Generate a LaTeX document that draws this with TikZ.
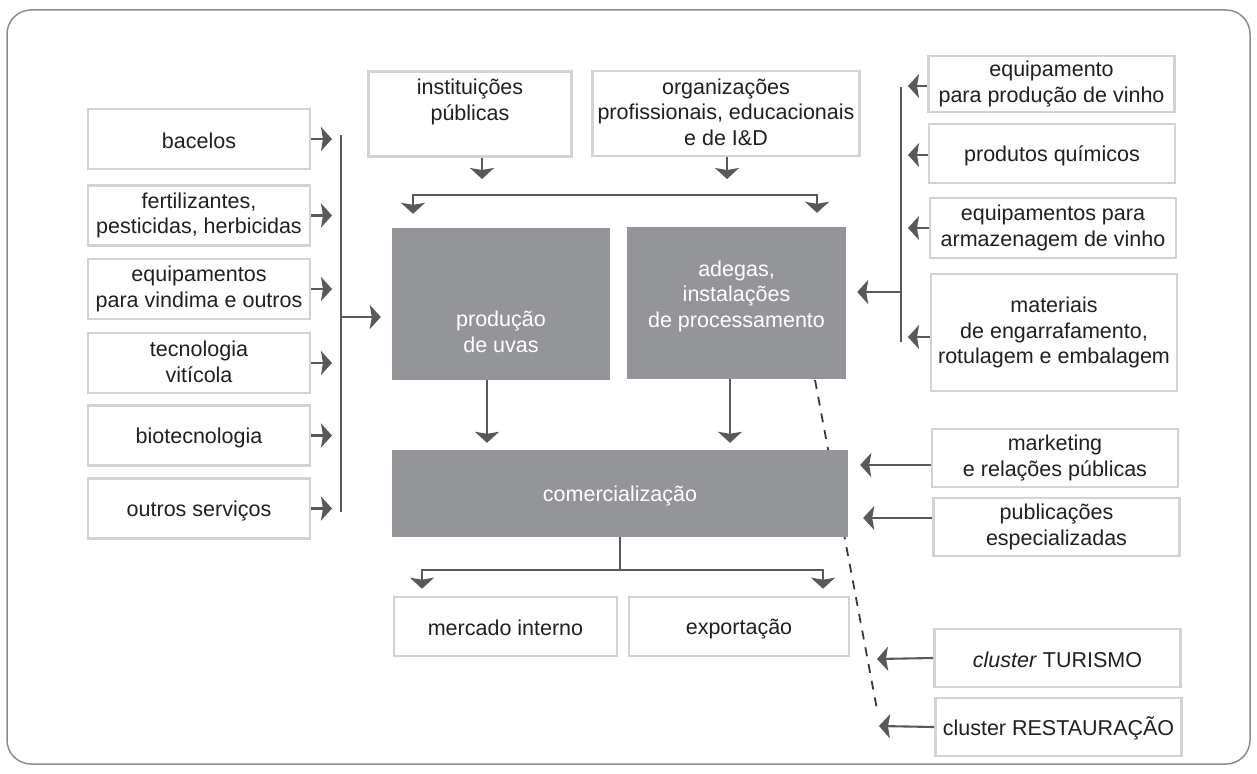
\documentclass[tikz,border=0pt]{standalone}
\usepackage{fontspec}
\setmainfont{Liberation Sans}
\usetikzlibrary{arrows.meta,calc}
\definecolor{boxgray}{HTML}{D1D3D4}
\definecolor{darkfill}{HTML}{939598}
\definecolor{linegray}{HTML}{58595B}
\definecolor{txt}{HTML}{231F20}
\definecolor{framegray}{HTML}{8A8C8E}
\definecolor{dashgray}{HTML}{3A3A3A}
\newcommand{\lnstrut}{\rule[-3pt]{0pt}{24pt}}
\begin{document}
\begin{tikzpicture}[x=1pt,y=-1pt,
  every node/.style={font=\fontsize{21.5}{25.5}\selectfont, text=txt, align=center, inner sep=0pt,
    execute at begin node=\lnstrut, execute at end node=\lnstrut},
  lbox/.style={draw=boxgray, line width=2.6pt, fill=white},
  lcol/.style={lbox, minimum width=222pt, minimum height=60pt},
  rcol/.style={lbox, minimum width=246pt, minimum height=58pt},
  dbox/.style={fill=darkfill, text=white},
  wtext/.style={text=white},
  conn/.style={draw=linegray, line width=2.1pt},
  arr/.style={conn, -{Stealth[width=24pt,length=11pt,inset=2pt]}},
  dashline/.style={draw=dashgray, line width=1.8pt, dash pattern=on 9pt off 8pt},
]
\useasboundingbox (0,0) rectangle (1257,773);
\draw[framegray, line width=1.5pt, rounded corners=24pt] (7,10) rectangle (1250,764);

% coordinates
\coordinate (Lt) at (341,135);
\coordinate (Lb) at (341,512);
\coordinate (Lm) at (341,317);
\coordinate (Rt) at (901,87);
\coordinate (Rb) at (901,342);
\coordinate (Rm) at (901,292);
\coordinate (busL) at (413,195);
\coordinate (busR) at (817,195);
\coordinate (cbus) at (620,570);
\coordinate (cbL) at (422,570);
\coordinate (cbR) at (823,570);
\coordinate (dS) at (815,380);
\coordinate (dE) at (877.5,712);
\coordinate (tT) at (877,659);
\coordinate (tR) at (879,726);

% dashed line (behind boxes)
\draw[dashline] (dS) -- (dE);

% left column
\node[lcol] (bac) at (199,139) {bacelos};
\node[lcol] (fer) at (199,215.5) {fertilizantes,\\pesticidas, herbicidas};
\node[lcol] (eqv) at (199,289) {equipamentos\\para vindima e outros};
\node[lcol] (tec) at (199,363) {tecnologia\\vitícola};
\node[lcol] (bio) at (199,435.5) {biotecnologia};
\node[lcol] (out) at (199,508.5) {outros serviços};

% top boxes
\node[lbox, minimum width=203pt, minimum height=85pt] (inst) at (470,114) {instituições\\públicas\\\mbox{}};
\node[lbox, minimum width=267pt, minimum height=85pt] (org) at (726,113.5) {organizações\\profissionais, educacionais\\e de I\&D};

% dark boxes
\node[dbox, minimum width=218pt, minimum height=152pt,
  label={[wtext, yshift=-29pt]center:produção\\de uvas}] (prod) at (501,304) {};
\node[dbox, minimum width=219pt, minimum height=152pt,
  label={[wtext, yshift=7pt]center:adegas,\\instalações\\de processamento}] (adeg) at (736.5,303) {};
\node[dbox, minimum width=456pt, minimum height=87pt] (com) at (620,493.5) {comercialização};

% bottom boxes
\node[lbox, minimum width=223pt, minimum height=59pt] (mi) at (505.5,626.5) {mercado interno};
\node[lbox, minimum width=220pt, minimum height=59pt] (exp) at (739,626.5) {exportação};

% right column
\node[rcol, minimum height=56pt] (eq1) at (1051.5,84) {equipamento\\para produção de vinho};
\node[rcol, minimum height=59pt] (qui) at (1052,153.5) {produtos químicos};
\node[rcol, minimum height=60pt] (arm) at (1053,228) {equipamentos para\\armazenagem de vinho};
\node[rcol, minimum height=117pt] (mat) at (1054,332.5) {materiais\\de engarrafamento,\\rotulagem e embalagem};
\node[rcol] (mkt) at (1055,458) {marketing\\e relações públicas};
\node[rcol] (pub) at (1056.5,527) {publicações\\especializadas};
\node[rcol] (tur) at (1057.5,658) {\textit{cluster} TURISMO};
\node[rcol] (res) at (1058.5,727) {cluster RESTAURAÇÃO};

% left connectors
\draw[conn] (Lt) -- (Lb);
\foreach \n in {bac,fer,eqv,tec,bio,out}
  \draw[arr, shorten >=9pt] (\n.east) -- (\n.east -| Lt);
\draw[arr, shorten >=11pt] (Lm) -- (Lm -| prod.west);

% top connectors
\draw[arr, shorten >=16pt] ([xshift=12pt]inst.south) -- ([xshift=12pt]inst.south |- busL);
\draw[arr, shorten >=16pt] ([xshift=1pt]org.south) -- ([xshift=1pt]org.south |- busL);
\draw[arr, shorten >=14pt] (busR) -- (busL) -- (busL |- prod.north);
\draw[arr, shorten >=14pt] (busL) -- (busR) -- (busR |- adeg.north);

% right connectors
\draw[conn] (Rt) -- (Rb);
\draw[arr, shorten >=7pt] ([yshift=-2pt]eq1.west) -- ([yshift=-2pt]eq1.west -| Rt);
\draw[arr, shorten >=7pt] ([yshift=-1.5pt]qui.west) -- ([yshift=-1.5pt]qui.west -| Rt);
\draw[arr, shorten >=7pt] (arm.west) -- (arm.west -| Rt);
\draw[arr, shorten >=7pt] ([yshift=-4.5pt]mat.west) -- ([yshift=-4.5pt]mat.west -| Rt);
\draw[arr, shorten >=11pt] (Rm) -- (Rm -| adeg.east);

% middle connectors
\draw[arr, shorten >=7pt] ([xshift=-14pt]prod.south) -- ([xshift=-14pt]prod.south |- com.north);
\draw[arr, shorten >=7pt] ([xshift=-6.5pt]adeg.south) -- ([xshift=-6.5pt]adeg.south |- com.north);
\draw[conn] (com.south) -- (cbus);
\draw[arr, shorten >=7pt] (cbR) -- (cbL) -- (cbL |- mi.north);
\draw[arr, shorten >=7pt] (cbL) -- (cbR) -- (cbR |- exp.north);

% lower right connectors
\draw[arr, shorten >=12pt] ([yshift=-7pt]mkt.west) -- ([yshift=-7pt]mkt.west -| com.east);
\draw[arr, shorten >=15pt] ([yshift=9pt]pub.west) -- ([yshift=9pt]pub.west -| com.east);
\draw[arr] (tur.west) -- (tT);
\draw[arr] (res.west) -- (tR);
\end{tikzpicture}
\end{document}
